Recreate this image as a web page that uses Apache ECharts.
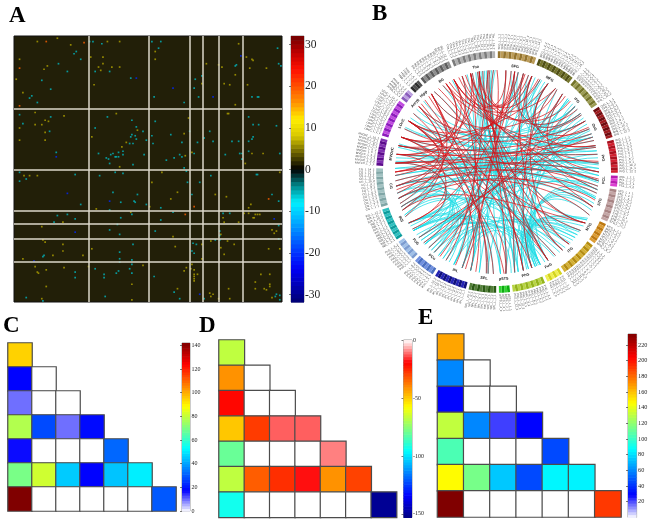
<!DOCTYPE html>
<html><head><meta charset="utf-8">
<style>html,body{margin:0;background:#fff}#c{width:662px;height:524px}#c canvas{filter:blur(.4px)}</style>
<script src="https://cdn.jsdelivr.net/npm/echarts@6/dist/echarts.min.js"></script>
</head><body><div id="c"></div>
<script>
// ---------- Panel A: connectivity matrix cells [column,row]
const warmCells=[[21,5],[39,2],[84,5],[95,5],[51,8],[202,7],[127,14],[5,21],[69,19],[80,19],[127,21],[209,19],[214,21],[215,22],[80,25],[173,25],[184,26],[30,27],[27,30],[76,28],[88,28],[95,28],[187,28],[212,29],[227,29],[78,31],[199,35],[2,39],[169,43],[72,44],[189,43],[194,44],[210,44],[8,51],[199,62],[19,69],[45,72],[92,70],[192,70],[193,70],[28,76],[31,77],[5,83],[19,80],[25,80],[157,74],[111,85],[28,87],[153,88],[70,91],[5,94],[28,94],[101,96],[97,100],[160,105],[154,108],[214,106],[224,106],[208,115],[95,118],[14,126],[21,126],[9,126],[133,123],[239,123],[124,132],[147,141],[181,143],[191,145],[141,147],[213,152],[122,154],[211,155],[74,156],[105,159],[207,160],[211,160],[217,161],[219,161],[221,161],[215,164],[216,164],[188,164],[44,168],[189,168],[202,168],[25,172],[232,175],[236,176],[234,178],[186,179],[143,181],[26,184],[28,186],[177,185],[192,185],[44,188],[169,188],[198,188],[145,190],[186,191],[70,192],[44,194],[229,192],[239,192],[189,197],[35,198],[62,198],[8,201],[169,201],[116,207],[19,208],[45,209],[67,208],[155,209],[160,206],[159,210],[162,211],[29,211],[21,213],[22,214],[153,212],[165,215],[222,215],[230,215],[162,215],[162,217],[162,219],[162,221],[217,222],[217,228],[106,224],[230,224],[230,226],[29,226],[225,228],[227,229],[147,228],[176,232],[193,228],[179,233],[177,235],[25,237],[106,238],[184,237],[194,237],[232,236]];
const coolCells=[[68,5],[71,5],[79,7],[124,5],[132,5],[56,14],[54,16],[130,11],[237,11],[60,21],[40,25],[238,25],[200,26],[199,27],[240,27],[48,32],[73,32],[86,32],[169,36],[163,39],[105,38],[25,40],[162,47],[33,48],[14,56],[16,54],[126,55],[166,55],[214,55],[219,55],[220,55],[21,60],[153,60],[5,71],[33,73],[84,73],[211,73],[8,79],[106,76],[127,77],[215,80],[220,80],[236,81],[110,82],[116,86],[73,83],[32,86],[106,89],[176,86],[158,86],[124,90],[141,89],[171,92],[215,91],[214,93],[105,91],[109,90],[110,93],[119,94],[179,95],[196,95],[202,95],[211,95],[165,96],[151,96],[125,97],[104,97],[107,97],[98,104],[94,105],[89,106],[87,107],[76,106],[38,105],[98,107],[91,109],[92,109],[94,109],[83,110],[85,111],[117,107],[162,106],[149,107],[151,109],[144,110],[137,112],[190,107],[203,106],[205,106],[211,104],[239,106],[205,111],[86,115],[107,116],[153,119],[155,122],[5,123],[11,129],[5,131],[55,125],[77,126],[91,123],[98,124],[177,126],[218,125],[219,125],[156,132],[167,132],[89,141],[160,143],[232,143],[111,143],[108,149],[96,150],[109,150],[238,149],[60,152],[119,152],[132,155],[86,157],[106,161],[39,162],[48,161],[143,159],[188,160],[194,160],[55,165],[96,164],[132,166],[36,168],[93,170],[238,171],[86,175],[127,176],[185,176],[95,179],[185,180],[181,184],[185,184],[238,183],[107,188],[161,187],[164,188],[160,194],[162,196],[95,195],[26,199],[27,198],[95,201],[106,202],[95,204],[106,206],[73,210],[104,210],[55,213],[94,212],[92,214],[81,215],[106,214],[55,218],[81,218],[126,217],[144,231],[82,235],[11,236],[26,239],[149,237],[171,237],[236,233],[235,235],[239,234],[239,238]];
const hotCells=[[29,5],[63,6],[5,29],[5,63],[229,147],[162,154],[154,161]];
const deepCells=[[204,18],[110,38],[143,47],[179,55],[38,109],[48,142],[86,149],[234,165],[55,177],[18,203],[167,233]];
const warmValue=6.5, coolValue=-5.8, hotValue=19, deepValue=-21;
const matrixDividersX=[67,121,158,170,184,205.5];
const matrixDividersY=[66,121,157.5,169,183,204];
const ticksA=[-30,-20,-10,0,10,20,30];

// ---------- Panel B: circular connectogram
const regionNames=['SFG','MFG','IFG','OrG','PrG','PCL','STG','MTG','ITG','FuG','PhG','pSTS','SPL','IPL','PCu','PoG','INS','CG','MVOcC','LOcC','Amyg','Hipp','BG','Tha'];
const regionNodes=[14,14,12,12,12,4,12,8,14,6,12,4,10,12,8,8,12,14,10,14,4,4,12,16];
const regionDark=['#94742e','#4f4f14','#74742a','#6e0c10','#a8101e','#b81cb0','#a88484','#bd7810','#b48c10','#d4d41c','#94b41c','#0cac10','#2a5a14','#10107c','#4c70c0','#7c9cd0','#0c9c9c','#80a6a6','#5c0c8c','#8c1cbc','#8a5cbc','#2e2e2e','#5c5c5c','#7c7c7c'];
const regionLight=['#bc9c58','#74742c','#9c9c54','#a01c20','#d02030','#dc40d0','#c4a6a6','#dc9c34','#d4b034','#f0f050','#b8d444','#30d430','#54803a','#2424b4','#7090e0','#a0c0e8','#30c0c0','#a2c2c2','#8030b0','#c04ce0','#bca0e0','#505050','#8e8e8e','#b2b2b2'];
const cyanLinks=[[350,170],[352,175],[355,160],[357,168],[353,185],[348,195],[345,150],[356,150],[358,200],[351,120],[349,165],[354,140],[346,175],[343,205],[359,178],[30,160],[40,165],[48,155],[52,150],[58,170],[62,158],[36,175],[44,185],[26,195],[22,170],[56,178],[66,165],[120,155],[118,157],[122,160],[125,155],[128,158],[115,162],[112,160],[110,165],[108,155],[130,163],[117,168],[105,160],[102,157],[134,156],[70,250],[75,235],[80,240],[85,262],[88,230],[92,255],[95,268],[100,240],[78,290],[65,275],[60,285],[55,295],[50,300],[45,305],[72,310],[82,225],[98,220],[90,278],[86,285],[76,258],[68,228],[96,300],[104,280],[255,110],[262,100],[268,95],[272,90],[280,85],[265,75],[276,105],[284,118],[290,125],[296,80],[302,95],[308,70],[314,60],[320,50],[215,15],[220,25],[225,340],[230,350],[235,35],[240,45],[245,55],[210,30],[205,40],[200,20],[195,350],[190,10],[228,65],[218,5],[238,12],[248,30],[252,20],[212,250],[218,255],[225,262],[235,275],[200,245],[205,235],[195,230],[208,262],[222,248],[190,240],[186,222],[20,60],[25,70],[15,50],[30,85],[35,95],[10,55],[18,78],[28,105],[8,68],[12,92],[44,100],[50,88],[146,205],[152,215],[158,225],[162,200],[172,240],[178,210],[182,232],[168,255],[142,250],[138,235],[132,218],[126,212],[334,170],[328,155],[322,128],[300,145],[286,155],[272,140],[258,135],[244,130],[236,150],[226,155]];
const redLinks=[[338,100],[342,110],[346,120],[349,135],[352,150],[355,165],[358,175],[335,95],[332,85],[328,75],[325,120],[322,140],[318,150],[315,160],[312,175],[305,185],[300,195],[5,200],[8,240],[12,255],[16,270],[20,280],[24,290],[30,300],[36,320],[42,335],[46,345],[52,350],[56,310],[60,300],[64,285],[68,270],[72,280],[76,275],[80,290],[84,265],[90,275],[94,260],[98,285],[102,270],[106,250],[110,262],[115,255],[120,248],[125,300],[135,30],[140,15],[340,5],[345,15],[350,25],[356,10],[335,18],[330,35],[10,55],[20,65],[30,75],[40,90],[262,300],[268,310],[275,330],[280,345],[285,350],[290,335],[295,320],[258,340],[252,330],[248,320],[244,310],[240,290],[236,275],[230,70],[226,60],[222,40],[218,50],[214,10],[210,355],[165,350],[170,20],[176,280],[182,300],[186,320],[192,335],[198,0],[204,345],[160,35],[150,330],[145,290]];

// ---------- Panels C, D, E: lower triangular network matrices
const matrixC=[[95],[18,0],[10,0,0],[78,28,10,19],[17,0,0,0,32],[70,82,46,18,45,51],[142,0,0,0,0,0,30]];
const matrixD=[[-67],[-41,0],[-20,0,0],[-49,-28,-12,-12],[-80,0,0,0,-9.5],[-67,-33,-26,-18,-41,-29],[-93,0,0,0,0,0,-150]];
const matrixE=[[167],[60,0],[30,0,0],[132,60,22,30],[105,0,0,0,46],[147,115,75,46,86,85],[234,0,0,0,0,0,192]];
const ticksC=[0,20,40,60,80,100,120,140];
const ticksD=[-150,-100,-50,0];
const ticksE=[20,40,60,80,100,120,140,160,180,200,220];

// ---------- Colour ramps (evenly spaced stops)
const rampA=['#000070','#0000b4','#0000f4','#0034ff','#0074ff','#00b4ff','#00f0ff','#008a8e','#000000','#6a6000','#d8c800','#ffee00','#ff9400','#ff5000','#ff1000','#c00000','#700000'];
const jetWhite=['#ffffff','#0000ff','#0080ff','#00ffff','#80ff80','#ffff00','#ff8000','#ff0000','#800000'];
const jetWhiteTop=['#000080','#0000ff','#0080ff','#00ffff','#80ff80','#ffff00','#ff8000','#ff0000','#ffffff'];

const serif='"Liberation Serif","Times New Roman",serif';
const grids=[],xAxes=[],yAxes=[],series=[],visualMaps=[];

function addColorBar(box,min,max,ramp,ticks,fontSize,labelMargin,bands){
  const g=grids.length;
  grids.push(Object.assign({show:true,borderColor:'#555',borderWidth:.6,backgroundColor:'#fff'},box));
  xAxes.push({gridIndex:g,type:'value',min:0,max:1,show:false});
  yAxes.push({gridIndex:g,type:'value',min,max,position:'right',splitLine:{show:false},axisLine:{show:false},
    axisTick:{show:true,inside:true,length:2,lineStyle:{color:'#222',width:.6},customValues:ticks},
    axisLabel:{show:true,margin:labelMargin,fontFamily:serif,fontSize,color:'#222',customValues:ticks,hideOverlap:false}});
  const step=(max-min)/bands,data=[];
  for(let i=0;i<bands;i++)data.push([0,min+i*step,1,min+(i+1)*step]);
  series.push({type:'custom',xAxisIndex:g,yAxisIndex:g,silent:true,encode:{x:[0,2],y:[1,3]},data,z:1,
    renderItem(p,api){
      const a=api.coord([0,api.value(1)]),b=api.coord([1,api.value(3)]);
      const mid=(api.value(1)+api.value(3))/2;
      return {type:'rect',shape:{x:a[0],y:b[1],width:b[0]-a[0],height:a[1]-b[1]+.6},
        style:{fill:echarts.color.lerp((mid-min)/(max-min),ramp)}};
    }});
}

function addTriangle(box,matrix,min,max,ramp){
  const g=grids.length,cats=matrix.map((_,i)=>String(i));
  grids.push(box);
  xAxes.push({gridIndex:g,type:'category',data:cats,show:false});
  yAxes.push({gridIndex:g,type:'category',data:cats,inverse:true,show:false});
  const data=[];
  matrix.forEach((row,r)=>row.forEach((v,c)=>data.push([c,r,v])));
  visualMaps.push({show:false,seriesIndex:series.length,dimension:2,min,max,inRange:{color:ramp}});
  series.push({type:'heatmap',xAxisIndex:g,yAxisIndex:g,data,silent:true,
    itemStyle:{borderColor:'#4c4c4c',borderWidth:1.2}});
}

// Panel A matrix
grids.push({left:14,top:36,width:268,height:266,show:true,backgroundColor:'#221f08',borderColor:'#111',borderWidth:1});
xAxes.push({gridIndex:0,type:'value',min:0,max:241,show:false});
yAxes.push({gridIndex:0,type:'value',min:0,max:240,inverse:true,show:false});
const cellsA=[].concat(
  warmCells.map(c=>[c[0],c[1],warmValue]),coolCells.map(c=>[c[0],c[1],coolValue]),
  hotCells.map(c=>[c[0],c[1],hotValue]),deepCells.map(c=>[c[0],c[1],deepValue]));
visualMaps.push({show:false,seriesIndex:0,dimension:2,min:-32,max:32,inRange:{color:rampA}});
series.push({type:'scatter',xAxisIndex:0,yAxisIndex:0,silent:true,symbol:'rect',symbolSize:1.7,data:cellsA,
  markLine:{silent:true,symbol:'none',label:{show:false},lineStyle:{color:'#dcd9ca',width:1.5,type:'solid'},
    data:matrixDividersX.map(v=>({xAxis:v})).concat(matrixDividersY.map(v=>({yAxis:v})))}});
addColorBar({left:291,top:36,width:13,height:266},-31.8,32.1,rampA,ticksA,11.5,1,64);

// Panels C, D, E
addTriangle({left:8,top:343,width:168,height:168},matrixC,0,142,jetWhite);
addColorBar({left:182,top:343,width:8,height:168},0,142,jetWhite,ticksC,6,1.5,64);
addTriangle({left:219,top:340,width:177.6,height:177.4},matrixD,-153,0,jetWhiteTop);
addColorBar({left:403.5,top:340,width:8.5,height:177.4},-153,0,jetWhiteTop,ticksD,6,1,64);
addTriangle({left:437.5,top:334,width:183.5,height:183},matrixE,0,234,jetWhite);
addColorBar({left:628,top:334,width:8.6,height:183.4},0,234,jetWhite,ticksE,6.2,1.5,64);

// Panel B
const unit=360/(regionNodes.reduce((a,b)=>a+b,0)+regionNodes.length);
const ringCells=[],ringNames=[];
let pos=.4;
regionNodes.forEach((n,ri)=>{
  ringNames.push([107,pos+n*unit/2,ri]);
  for(let k=0;k<n;k++)ringCells.push([0,pos+k*unit,pos+(k+1)*unit,ri,k]);
  pos+=(n+1)*unit;
});
const rad=d=>d*Math.PI/180;
// Links bend toward a hub belonging to each end's sector: [sector end angle, hub radius, hub angle]
const bundleHubs=[[35,58,15],[115,50,60],[175,60,158],[240,36,200],[320,50,292],[360,72,340]];
const hubOf=a=>{const x=((a%360)+360)%360;return bundleHubs.find(h=>x<=h[0]);};
function chord(list,stroke,width,opacity,z){
  return {type:'custom',coordinateSystem:'polar',polarIndex:0,silent:true,z,data:list,
    renderItem(p,api){
      const a=api.value(0),b=api.value(1);
      const s=api.coord([102,a]),e=api.coord([102,b]);
      const ha=hubOf(a),hb=hubOf(b);
      const h1=api.coord([ha[1],ha[2]]),h2=api.coord([hb[1],hb[2]]);
      const i1=api.coord([50,a]),i2=api.coord([50,b]);
      const w=.45;
      return {type:'bezierCurve',shape:{x1:s[0],y1:s[1],x2:e[0],y2:e[1],
          cpx1:h1[0]*w+i1[0]*(1-w),cpy1:h1[1]*w+i1[1]*(1-w),
          cpx2:h2[0]*w+i2[0]*(1-w),cpy2:h2[1]*w+i2[1]*(1-w)},
        style:{stroke,lineWidth:width,opacity,fill:'none'}};
    }};
}
series.push(chord(cyanLinks,'#1fdde6',.9,.85,2));
series.push(chord(redLinks,'#d31319',.9,.8,3));
series.push({type:'custom',coordinateSystem:'polar',polarIndex:0,silent:true,z:4,data:ringCells,
  renderItem(p,api){
    const a=api.value(1),b=api.value(2),ri=api.value(3),k=api.value(4);
    const pts=[];
    [[120.8,a],[120.8,(a+b)/2],[120.8,b],[114,b],[114,(a+b)/2],[114,a]].forEach(q=>pts.push(api.coord(q)));
    const th=(a+b)/2,right=th<180,q=api.coord([122.6,th]);
    return {type:'group',children:[
      {type:'polygon',shape:{points:pts},style:{fill:k%2?regionLight[ri]:regionDark[ri]}},
      {type:'text',x:q[0],y:q[1],rotation:rad(right?90-th:270-th),
       style:{text:regionNames[ri]+'_L_'+(k+1)+'_'+(k%2+1),fontSize:2.9,fill:'#3c3c3c',fontFamily:'"Liberation Sans",sans-serif',
         align:right?'left':'right',verticalAlign:'middle'}}
    ]};
  }});
series.push({type:'custom',coordinateSystem:'polar',polarIndex:0,silent:true,z:5,data:ringNames,
  renderItem(p,api){
    const th=api.value(1),q=api.coord([api.value(0),th]);
    const flip=th>90.5&&th<269.5;
    return {type:'text',x:q[0],y:q[1],rotation:rad(flip?180-th:-th),
      style:{text:regionNames[api.value(2)],fontSize:3.8,fontWeight:'bold',fill:'#222',fontFamily:'"Liberation Sans",sans-serif',align:'center',verticalAlign:'middle'}};
  }});

const letter=(text,left,top)=>({text,left,top,padding:0,textStyle:{fontFamily:serif,fontWeight:'bold',fontSize:23,color:'#000'}});
const chart=echarts.init(document.getElementById('c'),null,{renderer:'canvas',width:662,height:524});
chart.setOption({animation:false,backgroundColor:'#fff',
  title:[letter('A',9,5),letter('B',372,3),letter('C',3,315),letter('D',199,315),letter('E',418,307)],
  polar:{center:[497,172],radius:140},
  angleAxis:{type:'value',min:0,max:360,startAngle:90,clockwise:true,axisLine:{show:false},axisTick:{show:false},axisLabel:{show:false},splitLine:{show:false}},
  radiusAxis:{type:'value',min:0,max:140,axisLine:{show:false},axisTick:{show:false},axisLabel:{show:false},splitLine:{show:false}},
  grid:grids,xAxis:xAxes,yAxis:yAxes,visualMap:visualMaps,series});
</script></body></html>
